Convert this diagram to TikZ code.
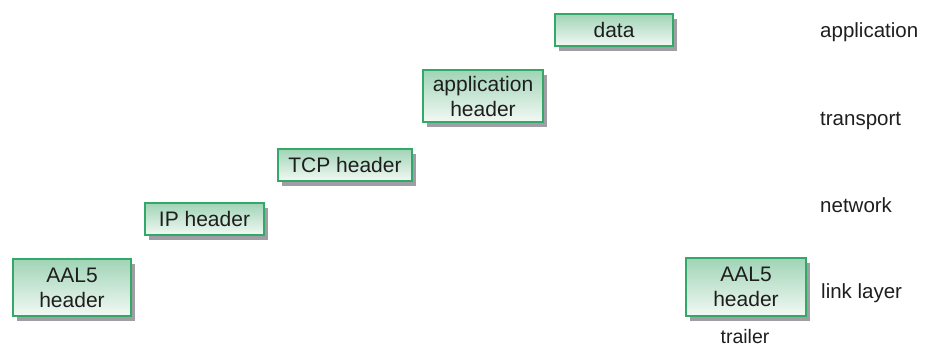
\documentclass[tikz,border=0pt]{standalone}
\usepackage{fontspec}
\setmainfont{Liberation Sans}
\usetikzlibrary{shadows}
\definecolor{boxtop}{RGB}{160,212,182}
\definecolor{boxbot}{RGB}{242,249,244}
\definecolor{boxline}{RGB}{52,168,104}
\definecolor{shade}{RGB}{158,158,164}
\definecolor{ink}{RGB}{30,30,30}
\tikzset{
  pdu/.style={draw=boxline, line width=1.2pt, top color=boxtop, bottom color=boxbot,
    inner sep=0pt, align=center, text=ink,
    font=\fontsize{21}{25}\selectfont,
    drop shadow={shadow xshift=4pt, shadow yshift=-5pt, fill=shade, opacity=1}},
  layer/.style={anchor=base west, inner sep=0pt, text=ink, font=\fontsize{20.5}{24}\selectfont},
}
\begin{document}
\begin{tikzpicture}[x=1pt,y=-1pt]
\useasboundingbox (0,0) rectangle (941,347);
% encapsulation boxes, one per layer
\node[pdu, minimum width=118pt, minimum height=32pt] (data) at (614,30) {data};
\node[pdu, minimum width=120pt, minimum height=52pt] (apph) at (483,96) {application\\header};
\node[pdu, minimum width=134pt, minimum height=32pt] (tcph) at (345,165) {TCP header};
\node[pdu, minimum width=119pt, minimum height=32pt] (iph) at (204.5,219) {IP header};
\node[pdu, minimum width=118pt, minimum height=57pt] (aalh) at (72,287.5) {AAL5\\header};
\node[pdu, minimum width=120pt, minimum height=58pt] (aalt) at (746,287) {AAL5\\header};
% layer names
\node[layer] (lapp) at (820,38) {application};
\node[layer] (ltra) at (820,126) {transport};
\node[layer] (lnet) at (820,213) {network};
\node[layer] (llnk) at (821,298) {link layer};
\node[anchor=base, inner sep=0pt, text=ink, font=\fontsize{19.5}{23}\selectfont] (trl) at (745,343) {trailer};
\end{tikzpicture}
\end{document}
